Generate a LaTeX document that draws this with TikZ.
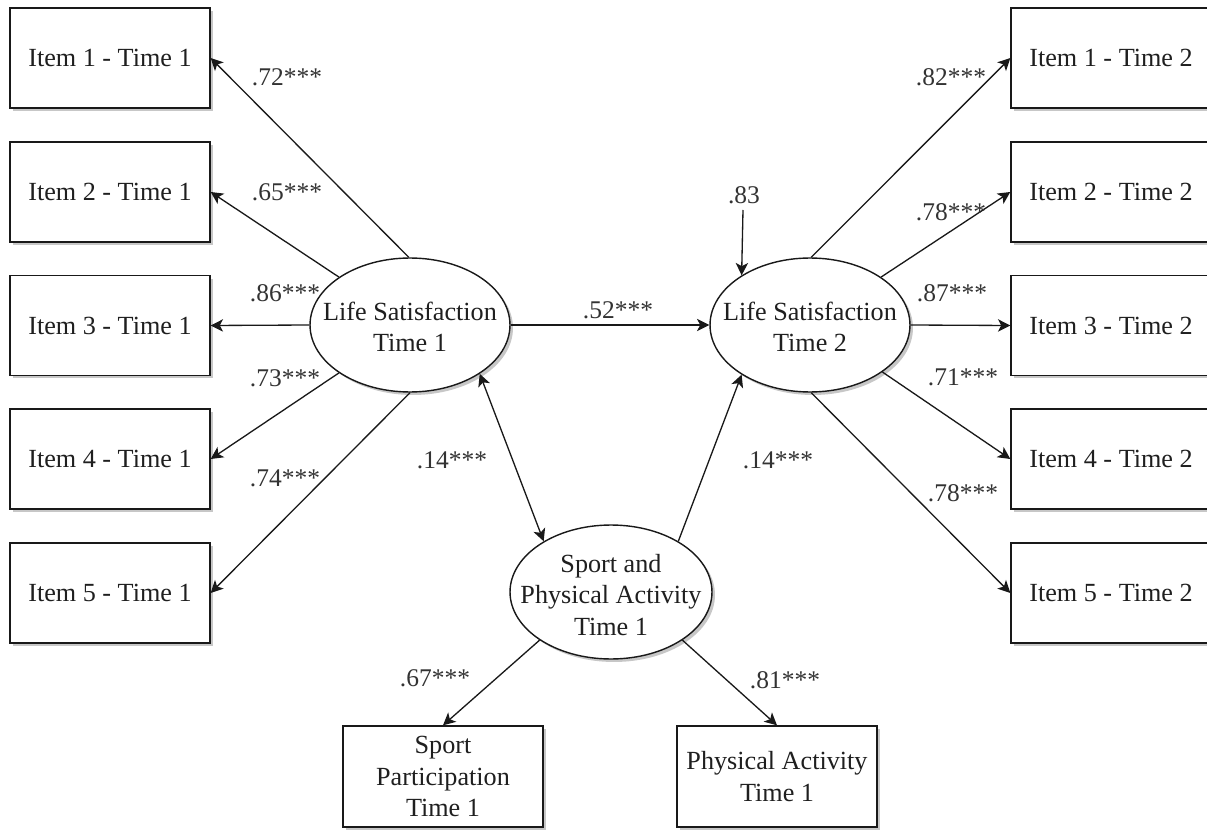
\documentclass[tikz,border=0pt]{standalone}
\usepackage{fontspec}
\setmainfont{Liberation Serif}
\usetikzlibrary{shapes.geometric,arrows.meta,shadows}
\begin{document}
\begin{tikzpicture}[x=0.02cm,y=-0.02cm,
  every node/.style={font=\fontsize{14.9}{18}\selectfont, text=black!88},
  shadowed/.style={drop shadow={shadow xshift=0.06cm, shadow yshift=-0.06cm, fill=black!22, opacity=1}},
  obs/.style={draw=black!90, line width=0.8pt, fill=white, minimum width=4cm, minimum height=2cm, inner sep=0pt, align=center, shadowed},
  lat/.style={ellipse, draw=black!90, line width=0.8pt, fill=white, minimum width=4cm, minimum height=2.68cm, inner sep=0pt, shadowed},
  inlbl/.style={align=center, inner sep=0pt},
  tip/.tip={Stealth[length=7pt,width=7pt,inset=1.8pt]},
  arr/.style={line width=0.75pt, draw=black!90, -tip},
  biarr/.style={line width=0.75pt, draw=black!90, tip-tip},
  lbl/.style={font=\fontsize{14.5}{17}\selectfont, text=black!80, inner sep=0pt}
]
\useasboundingbox (0,0) rectangle (1207,831);

% left indicators
\node[obs] (a1) at (110,58) {Item 1 - Time 1};
\node[obs] (a2) at (110,192) {Item 2 - Time 1};
\node[obs] (a3) at (110,325.5) {Item 3 - Time 1};
\node[obs] (a4) at (110,459) {Item 4 - Time 1};
\node[obs] (a5) at (110,593) {Item 5 - Time 1};

% right indicators
\node[obs] (b1) at (1111,58) {Item 1 - Time 2};
\node[obs] (b2) at (1111,192) {Item 2 - Time 2};
\node[obs] (b3) at (1111,325.5) {Item 3 - Time 2};
\node[obs] (b4) at (1111,459) {Item 4 - Time 2};
\node[obs] (b5) at (1111,593) {Item 5 - Time 2};

% bottom indicators
\node[obs, minimum height=2.02cm] (sp) at (443,776.5) {Sport\\Participation\\Time 1};
\node[obs, minimum height=2.02cm] (pa) at (777,776.5) {Physical Activity\\Time 1};

% latent variables
\node[lat] (ls1) at (410,325) {};
\node[inlbl] (ls1t) at (410,327) {Life Satisfaction\\Time 1};
\node[lat] (ls2) at (810,325) {};
\node[inlbl] (ls2t) at (810,327) {Life Satisfaction\\Time 2};
\node[lat, minimum width=4.04cm] (spa) at (611,592) {};
\node[inlbl] (spat) at (611,595) {Sport and\\Physical Activity\\Time 1};

\coordinate (e83) at (743,210);

% loadings, Time 1
\draw[arr] (ls1.91) -- (a1.east);
\draw[arr] (ls1.146) -- (a2.east);
\draw[arr] (ls1.west) -- (a3.east);
\draw[arr] (ls1.214) -- (a4.east);
\draw[arr] (ls1.270) -- (a5.east);

% loadings, Time 2
\draw[arr] (ls2.89) -- (b1.west);
\draw[arr] (ls2.34) -- (b2.west);
\draw[arr] (ls2.east) -- (b3.west);
\draw[arr] (ls2.327) -- (b4.west);
\draw[arr] (ls2.271) -- (b5.west);

% structural paths
\draw[arr] (ls1.east) -- (ls2.west);
\draw[biarr] (ls1.325) -- (spa.143);
\draw[arr] (spa.37) -- (ls2.216);
\draw[arr] (e83) -- (ls2.144);
\draw[arr] (spa.214) -- (sp.north);
\draw[arr] (spa.326) -- (pa.north);

% labels
\node[lbl] (l1) at (287,77) {.72***};
\node[lbl] (l2) at (287,192) {.65***};
\node[lbl] (l3) at (285,293) {.86***};
\node[lbl] (l4) at (285,378) {.73***};
\node[lbl] (l5) at (285,478) {.74***};
\node[lbl] (r1) at (951,77) {.82***};
\node[lbl] (r2) at (951,212) {.78***};
\node[lbl] (r3) at (952,293) {.87***};
\node[lbl] (r4) at (963,377) {.71***};
\node[lbl] (r5) at (963,493) {.78***};
\node[lbl] (s52) at (618,310) {.52***};
\node[lbl] (s14a) at (452,460) {.14***};
\node[lbl] (s14b) at (778,460) {.14***};
\node[lbl] (s83) at (744,195) {.83};
\node[lbl] (s67) at (435,678) {.67***};
\node[lbl] (s81) at (785,680) {.81***};
\end{tikzpicture}
\end{document}
